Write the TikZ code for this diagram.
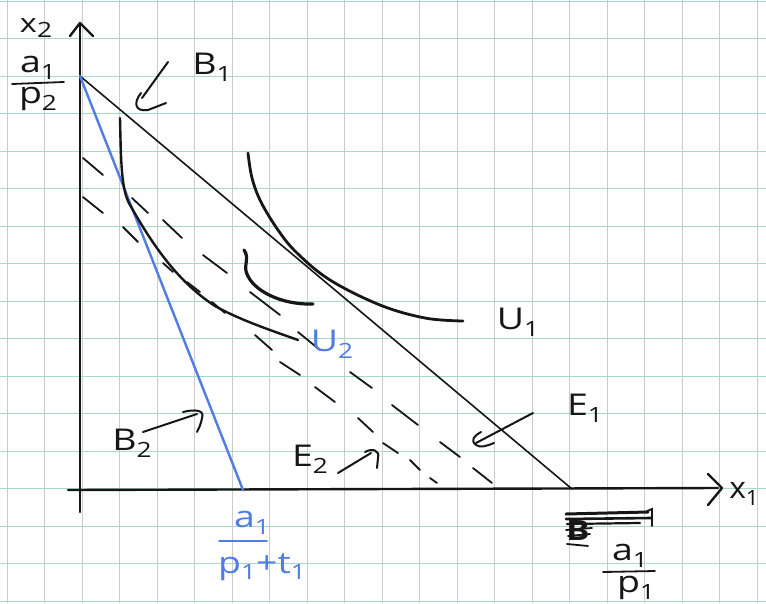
\documentclass[tikz,border=0pt]{standalone}
\usepackage{fontspec}
\setmainfont{Open Sans}
\usetikzlibrary{arrows.meta}
\definecolor{penblue}{RGB}{80,125,225}
\definecolor{gridh}{RGB}{168,216,202}
\definecolor{gridv}{RGB}{200,204,204}
\definecolor{ink}{RGB}{22,22,22}
\newcommand\hsub[1]{\raisebox{-0.22em}{\fontsize{21}{21}\selectfont #1}}
\begin{document}
\begin{tikzpicture}[x=1pt,y=-1pt,
  lbl/.style={font=\fontsize{30}{32}\selectfont, inner sep=0pt, text=ink, transform shape, xscale=1.25},
  blbl/.style={lbl, text=penblue},
  axisline/.style={ink, line width=2.4pt, line cap=round, line join=round},
  budget/.style={ink, line width=1.6pt, line cap=round},
  bluebudget/.style={penblue, line width=2.4pt, line cap=round},
  icurve/.style={ink, line width=2.8pt, line cap=round, line join=round},
  dashseg/.style={ink, line width=1.8pt, line cap=round},
  handarrow/.style={ink, line width=2pt, line cap=round, line join=round},
  fracbar/.style={line width=1.8pt, line cap=round}]
\useasboundingbox (0,0) rectangle (766,603);
\fill[white] (0,0) rectangle (766,603);
% grid paper
\foreach \i in {0,...,20} \draw[gridv, line width=0.8pt] ({7+37.5*\i},0) -- ({7+37.5*\i},603);
\foreach \j in {0,...,16} \draw[gridh, line width=0.8pt] (0,{1+37.5*\j}) -- (766,{1+37.5*\j});

% key points
\coordinate (O) at (80,490);
\coordinate (ybot) at (80,512);
\coordinate (ytop) at (80,23);
\coordinate (xleft) at (68,490);
\coordinate (xtop) at (718,488);
\coordinate (A) at (80,76);
\coordinate (B1end) at (572,489);
\coordinate (B2end) at (243,490);

% axes
\draw[axisline] (ybot) -- (ytop);
\draw[axisline] (70,36) -- (ytop) -- (93,36);
\draw[axisline] (xleft) -- (xtop);
\draw[axisline] (708,474) -- (722,488) -- (708,505);

% budget lines
\draw[budget] (A) -- (B1end);
\draw[bluebudget] (A) -- (B2end);

% dashed line (outer)
\foreach \a/\b/\c/\d in {83/158/103/175, 132/198/148/213, 163/220/182/238, 203/255/227/273,
  250/292/280/315, 298/332/320/350, 350/372/372/388, 392/405/418/425, 440/442/460/457, 473/468/492/483}
  \draw[dashseg] (\a,\b) -- (\c,\d);
% dashed line (inner)
\foreach \a/\b/\c/\d in {83/197/103/213, 123/227/138/242, 163/263/173/272, 187/282/200/292,
  212/302/225/313, 255/335/272/350, 280/362/300/375, 315/387/335/402, 358/418/373/432,
  383/443/398/453, 410/460/420/470, 430/478/437/483}
  \draw[dashseg] (\a,\b) -- (\c,\d);

% indifference curves
\draw[icurve] plot[smooth, tension=0.6] coordinates {(248,153) (252,178) (261,202) (278,230) (297,253) (330,280) (380,305) (425,318) (463,321)};
\draw[icurve, line width=2.4pt] (120,118) .. controls (121,160) and (121,190) .. (130,205)
  .. controls (150,240) and (175,280) .. (215,306) .. controls (240,320) and (270,330) .. (298,340);
\draw[icurve, line width=3.2pt] (244,250) .. controls (250,258) and (243,266) .. (247,274)
  .. controls (253,290) and (280,305) .. (313,304);

% hand arrows
\draw[handarrow] (168,62) -- (142,98);
\draw[handarrow] (141,93) .. controls (133,103) and (135,112) .. (148,110) -- (166,103);
\draw[handarrow] (143,432) -- (197,414);
\draw[handarrow] (183,412) .. controls (195,409) and (205,410) .. (202,418) .. controls (201,424) and (199,428) .. (197,432);
\draw[handarrow] (338,473) -- (371,453);
\draw[handarrow] (365,452) .. controls (372,448) and (380,450) .. (378,458) -- (377,468);
\draw[handarrow] (533,413) -- (476,443);
\draw[handarrow] (481,432) .. controls (474,436) and (470,440) .. (476,445) .. controls (480,448) and (487,446) .. (494,443);

% labels
\node[lbl, font=\fontsize{26}{28}\selectfont] (lx2) at (36,28) {x\hsub{2}};
\node[lbl, xscale=0.85] (lx1) at (744,494) {x\hsub{1}};
\node[lbl] (fnum) at (38,68) {a\hsub{1}};
\draw[fracbar, ink] (12,84) -- (64,82);
\node[lbl] (fden) at (38,99) {p\hsub{2}};
\node[lbl] (lB1) at (212,67) {B\hsub{1}};
\node[lbl] (lU1) at (518,322) {U\hsub{1}};
\node[blbl] (lU2) at (332,344) {U\hsub{2}};
\node[lbl] (lE1) at (585,408) {E\hsub{1}};
\node[lbl] (lE2) at (310,459) {E\hsub{2}};
\node[lbl] (lB2) at (132,443) {B\hsub{2}};

% blue fraction a1/(p1+t1)
\node[blbl] (bnum) at (252,523) {a\hsub{1}};
\draw[fracbar, penblue] (219,541) -- (267,541);
\node[blbl] (bden) at (262,567) {p\hsub{1}+t\hsub{1}};

% crossed-out text and a1/p1
\node[lbl, font=\fontsize{28}{30}\selectfont\bfseries] (xout) at (578,530) {B};
\draw[ink, line width=3pt, line cap=round] (566,514) -- (648,512);
\draw[ink, line width=2.6pt, line cap=round] (566,519) -- (651,518);
\draw[ink, line width=2.2pt, line cap=round] (567,524) -- (640,523);
\draw[ink, line width=1.8pt, line cap=round] (566,530) -- (592,528) (568,536) -- (590,534) (567,544) -- (588,546);
\draw[ink, line width=1.8pt, line cap=round] (645,512) -- (652,509) -- (652,526);
\node[lbl] (rnum) at (630,556) {a\hsub{1}};
\draw[fracbar, ink] (603,572) -- (655,571);
\node[lbl] (rden) at (636,588) {p\hsub{1}};
\end{tikzpicture}
\end{document}
